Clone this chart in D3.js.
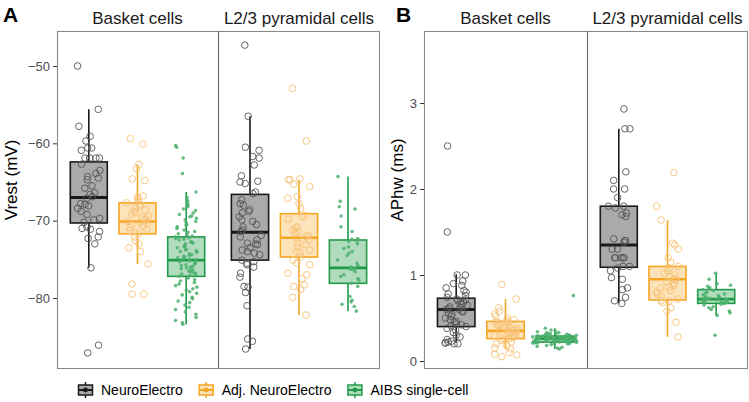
<!DOCTYPE html>
<html><head><meta charset="utf-8">
<script src="https://cdn.jsdelivr.net/npm/d3@7/dist/d3.min.js"></script>
<style>body{margin:0;background:#fff} text{font-family:"Liberation Sans",Arial,Helvetica,sans-serif}</style>
</head><body><svg id="c" width="749" height="402"></svg>
<script>
const sources = ["NeuroElectro", "Adj. NeuroElectro", "AIBS single-cell"];
const cellTypes = ["Basket cells", "L2/3 pyramidal cells"];
const vrestTicks = [-80, -70, -60, -50];
const aphwTicks = [0, 1, 2, 3];

// ---- Vrest (mV), basket cells ----
const vrestBasketNE = [-50.0,-55.6,-57.8,-59.1,-59.7,-60.6,-60.6,-60.9,-61.9,-61.9,-61.9,-61.9,-62.7,-63.5,-63.9,-64.3,-64.5,-64.7,-65.5,-65.8,-66.4,-66.6,-66.9,-67.1,-67.8,-67.9,-68.1,-68.4,-68.8,-69.2,-69.7,-69.9,-70.2,-70.8,-71.0,-71.1,-71.4,-72.1,-72.3,-73.0,-76.1,-86.1,-87.1];
const vrestBasketAdj = [-59.4,-60.1,-62.7,-63.3,-64.6,-64.8,-66.8,-66.9,-67.2,-67.5,-67.7,-67.9,-68.1,-68.3,-68.6,-68.8,-69.0,-69.2,-69.4,-69.6,-69.8,-70.0,-70.1,-70.2,-70.3,-70.5,-70.7,-70.9,-71.1,-71.3,-71.5,-71.7,-72.1,-72.6,-73.0,-73.5,-74.0,-75.6,-78.2,-79.5,-79.5];
const vrestBasketAIBS = [-60.3,-60.5,-61.9,-63.9,-66.3,-67.0,-67.4,-67.7,-68.0,-68.2,-68.5,-68.7,-69.0,-69.2,-69.4,-69.5,-69.7,-69.9,-70.1,-70.3,-70.5,-70.6,-70.8,-71.0,-71.2,-71.4,-71.5,-71.7,-71.9,-72.0,-72.1,-72.2,-72.3,-72.4,-72.5,-72.7,-72.8,-72.9,-73.0,-73.2,-73.3,-73.4,-73.5,-73.7,-73.8,-73.9,-74.0,-74.1,-74.3,-74.4,-74.5,-74.6,-74.7,-74.8,-74.9,-75.0,-75.1,-75.2,-75.3,-75.4,-75.5,-75.6,-75.7,-75.8,-75.9,-76.0,-76.1,-76.2,-76.3,-76.4,-76.5,-76.6,-76.7,-76.8,-76.9,-77.0,-77.1,-77.2,-77.4,-77.6,-77.8,-78.0,-78.2,-78.4,-78.6,-78.8,-79.0,-79.2,-79.4,-79.6,-79.9,-80.1,-80.4,-80.6,-80.9,-81.2,-81.5,-81.8,-82.1,-82.5,-82.9,-83.2,-83.4];
// ---- Vrest (mV), L2/3 pyramidal cells ----
const vrestPyrNE = [-47.3,-56.5,-60.5,-60.9,-61.7,-61.9,-62.8,-64.2,-64.9,-65.0,-65.2,-66.3,-66.5,-67.3,-67.8,-68.0,-68.6,-68.8,-69.0,-69.5,-69.9,-70.1,-70.5,-70.8,-71.2,-71.4,-71.9,-72.1,-72.5,-72.9,-73.0,-73.1,-73.5,-73.8,-74.0,-74.2,-74.4,-75.1,-75.3,-75.5,-75.7,-76.0,-76.8,-77.3,-78.5,-78.6,-79.3,-81.0,-85.3,-85.6,-86.6];
const vrestPyrAdj = [-52.9,-59.7,-64.6,-64.7,-64.7,-65.3,-65.6,-66.9,-67.1,-67.8,-68.4,-69.3,-69.5,-69.8,-70.8,-71.0,-71.2,-71.4,-71.6,-71.9,-72.1,-72.3,-72.5,-72.9,-73.1,-73.4,-73.8,-74.0,-74.2,-74.7,-75.1,-75.5,-75.7,-76.8,-77.0,-77.5,-78.3,-78.5,-78.9,-79.9,-82.2];
const vrestPyrAIBS = [-64.3,-67.5,-68.2,-68.5,-69.4,-70.8,-71.4,-72.3,-72.4,-72.5,-72.6,-72.7,-73.0,-73.4,-73.6,-74.0,-74.2,-74.5,-75.1,-75.5,-75.8,-76.0,-76.2,-76.3,-76.4,-76.6,-77.0,-77.2,-77.5,-77.7,-78.1,-78.5,-79.8,-80.3,-80.5,-80.8,-81.1,-81.7];
// box stats: [lower whisker, Q1, median, Q3, upper whisker] per source
const vrestBasketBox = [[-76.1,-70.3,-67.0,-62.4,-55.6],[-75.6,-71.7,-70.1,-67.7,-62.7],[-83.4,-77.2,-75.1,-72.1,-66.3]];
const vrestPyrBox = [[-86.6,-75.1,-71.5,-66.6,-56.5],[-82.2,-74.7,-72.2,-69.1,-64.7],[-81.7,-78.1,-76.1,-72.5,-64.3]];

// ---- APhw (ms), basket cells ----
const aphwBasketNE = [2.50,1.50,1.00,1.00,0.93,0.90,0.88,0.85,0.82,0.80,0.78,0.76,0.74,0.72,0.71,0.70,0.69,0.68,0.66,0.65,0.63,0.62,0.61,0.60,0.60,0.58,0.57,0.55,0.54,0.52,0.50,0.48,0.46,0.45,0.43,0.42,0.41,0.40,0.38,0.36,0.33,0.30,0.28,0.25,0.23,0.22,0.21,0.21,0.20,0.20];
const aphwBasketAdj = [0.89,0.72,0.62,0.58,0.55,0.52,0.50,0.48,0.47,0.46,0.45,0.44,0.43,0.42,0.41,0.40,0.39,0.38,0.37,0.36,0.35,0.35,0.34,0.33,0.32,0.31,0.30,0.29,0.28,0.27,0.26,0.26,0.25,0.24,0.22,0.20,0.18,0.15,0.14,0.10,0.08,0.07,0.05];
const aphwBasketAIBS = [0.76,0.38,0.36,0.35,0.34,0.33,0.33,0.32,0.32,0.31,0.31,0.31,0.30,0.30,0.30,0.30,0.29,0.29,0.29,0.29,0.29,0.28,0.28,0.28,0.28,0.28,0.28,0.27,0.27,0.27,0.27,0.27,0.27,0.27,0.27,0.26,0.26,0.26,0.26,0.26,0.26,0.26,0.26,0.26,0.25,0.25,0.25,0.25,0.25,0.25,0.25,0.25,0.24,0.24,0.24,0.24,0.24,0.24,0.24,0.23,0.23,0.23,0.23,0.23,0.23,0.22,0.22,0.22,0.22,0.22,0.21,0.21,0.21,0.21,0.20,0.20,0.20,0.19,0.18,0.17,0.16,0.15,0.14];
// ---- APhw (ms), L2/3 pyramidal cells ----
const aphwPyrNE = [2.93,2.70,2.70,2.20,2.10,2.00,2.00,1.90,1.80,1.80,1.78,1.72,1.70,1.68,1.42,1.40,1.40,1.38,1.30,1.30,1.20,1.20,1.20,1.20,1.20,1.10,1.10,1.08,1.05,0.97,0.95,0.85,0.83,0.74,0.70,0.67];
const aphwPyrAdj = [2.19,1.80,1.64,1.37,1.35,1.30,1.20,1.15,1.10,1.08,1.05,1.02,1.00,0.98,0.95,0.95,0.92,0.90,0.88,0.86,0.85,0.82,0.80,0.78,0.75,0.72,0.70,0.70,0.68,0.62,0.58,0.45,0.28];
const aphwPyrAIBS = [1.02,0.95,0.90,0.88,0.87,0.85,0.84,0.83,0.82,0.80,0.79,0.78,0.77,0.76,0.75,0.74,0.73,0.73,0.72,0.72,0.71,0.71,0.70,0.70,0.69,0.69,0.68,0.68,0.67,0.66,0.65,0.63,0.62,0.60,0.58,0.56,0.53,0.30];
const aphwBasketBox = [[0.21,0.40,0.60,0.73,1.01],[0.14,0.26,0.35,0.46,0.72],[0.14,0.22,0.26,0.29,0.38]];
const aphwPyrBox = [[0.67,1.09,1.35,1.80,2.70],[0.28,0.71,0.95,1.10,1.64],[0.53,0.67,0.72,0.83,1.02]];

// ---- styling ----
const strokeCol = ["#1a1a1a", "#F5A623", "#1F9A48"];
const boxFill = ["#aaaaaa", "#fde3ba", "#b1dcbe"];
const ptStroke = ["#555555", "#f7c276", null];
const ptFill = [null, null, "#4cb06d"];

const svg = d3.select("#c");
const FONT = '"Liberation Sans",Arial,Helvetica,sans-serif';

function hash(i, g) {
  const s = Math.sin(i * 12.9898 + g * 78.233) * 43758.5453;
  return s - Math.floor(s);
}

function drawPanel(cfg) {
  const g = svg.append("g");
  const y = d3.scaleLinear().domain(cfg.yDomain).range(cfg.yRange);
  const top = 31, bottom = 368;
  cfg.facets.forEach((f, fi) => {
    const x = d3.scalePoint().domain(sources).range([f[0], f[1]]).padding(0.653);
    const step = x.step();
    const bw = step * 0.76;
    g.append("text").attr("x", (f[0] + f[1]) / 2).attr("y", 24)
      .attr("text-anchor", "middle").attr("font-size", 17).attr("fill", "#1a1a1a")
      .text(cellTypes[fi]);
    sources.forEach((s, si) => {
      const st = cfg.box[fi][si];
      const cx = x(s);
      const bg = g.append("g");
      bg.append("line").attr("x1", cx).attr("x2", cx).attr("y1", y(st[4])).attr("y2", y(st[0]))
        .attr("stroke", strokeCol[si]).attr("stroke-width", 1.6);
      bg.append("rect").attr("x", cx - bw / 2).attr("width", bw)
        .attr("y", y(st[3])).attr("height", y(st[1]) - y(st[3]))
        .attr("fill", boxFill[si]).attr("stroke", strokeCol[si]).attr("stroke-width", 1.6);
      bg.append("line").attr("x1", cx - bw / 2).attr("x2", cx + bw / 2)
        .attr("y1", y(st[2])).attr("y2", y(st[2]))
        .attr("stroke", strokeCol[si]).attr("stroke-width", si === 0 ? 3 : 2.6);
      const vals = cfg.data[fi][si];
      const jw = (cfg.jitter && cfg.jitter[fi] ? cfg.jitter[fi][si] : 0.23) * step;
      const sel = g.append("g").selectAll("circle").data(vals).join("circle")
        .attr("cx", (d, i) => cx + (hash(i, si + fi * 3 + cfg.seed) - 0.5) * 2 * jw)
        .attr("cy", d => y(d));
      if (si === 2) {
        sel.attr("r", 1.8).attr("fill", ptFill[si]).attr("fill-opacity", 0.85);
      } else {
        sel.attr("r", 3.3).attr("fill", "none").attr("stroke", ptStroke[si]).attr("stroke-width", 0.9);
      }
    });
  });
  const L = cfg.facets[0][0], M = cfg.facets[0][1], R = cfg.facets[1][1];
  g.append("rect").attr("x", L + 0.5).attr("y", top + 0.5).attr("width", R - L - 1).attr("height", bottom - top)
    .attr("fill", "none").attr("stroke", "#8a8a8a").attr("stroke-width", 1.1);
  g.append("line").attr("x1", M + 0.5).attr("x2", M + 0.5).attr("y1", top).attr("y2", bottom + 0.5)
    .attr("stroke", "#666").attr("stroke-width", 1.1);
  const ax = g.append("g").attr("transform", `translate(${L},0)`)
    .call(d3.axisLeft(y).tickValues(cfg.ticks).tickSize(4).tickPadding(3)
      .tickFormat(d => d < 0 ? "\u2212" + Math.abs(d) : String(d)));
  ax.select(".domain").remove();
  ax.selectAll(".tick line").attr("stroke", "#333");
  ax.selectAll(".tick text").attr("font-size", 13).attr("fill", "#4d4d4d").attr("font-family", FONT);
  g.append("text").attr("transform", `translate(${cfg.titleX},${cfg.titleY}) rotate(-90)`)
    .attr("text-anchor", "middle").attr("font-size", 17).attr("fill", "#000").text(cfg.yTitle);
  g.append("text").attr("x", cfg.letterX).attr("y", 22).attr("font-size", 21).attr("font-weight", "bold")
    .attr("fill", "#000").text(cfg.letter);
}

drawPanel({
  letter: "A", letterX: 3, seed: 0,
  facets: [[57, 218], [218, 380]],
  yDomain: [-80, -50], yRange: [298, 66], ticks: vrestTicks,
  yTitle: "Vrest (mV)", titleX: 17, titleY: 180,
  data: [[vrestBasketNE, vrestBasketAdj, vrestBasketAIBS], [vrestPyrNE, vrestPyrAdj, vrestPyrAIBS]],
  box: [vrestBasketBox, vrestPyrBox]
});
drawPanel({
  letter: "B", letterX: 396, seed: 7,
  facets: [[424, 587], [587, 748]],
  yDomain: [0, 3], yRange: [361, 103], ticks: aphwTicks,
  yTitle: "APhw (ms)", titleX: 403, titleY: 180,
  jitter: [[0.23, 0.23, 0.45], [0.23, 0.23, 0.3]],
  data: [[aphwBasketNE, aphwBasketAdj, aphwBasketAIBS], [aphwPyrNE, aphwPyrAdj, aphwPyrAIBS]],
  box: [aphwBasketBox, aphwPyrBox]
});

const lg = svg.append("g");
let lx = 78;
const ly = 390;
sources.forEach((s, si) => {
  const k = lg.append("g").attr("transform", `translate(${lx},${ly})`);
  k.append("line").attr("x1", 7.5).attr("x2", 7.5).attr("y1", -8).attr("y2", 8)
    .attr("stroke", strokeCol[si]).attr("stroke-width", 1.5);
  k.append("rect").attr("x", 0.5).attr("y", -5).attr("width", 14).attr("height", 10)
    .attr("fill", boxFill[si]).attr("stroke", strokeCol[si]).attr("stroke-width", 1.5);
  k.append("line").attr("x1", 0.5).attr("x2", 14.5).attr("y1", 0).attr("y2", 0)
    .attr("stroke", strokeCol[si]).attr("stroke-width", 2);
  k.append("circle").attr("cx", 7.5).attr("cy", 0).attr("r", 2.4).attr("fill", strokeCol[si]);
  const t = lg.append("text").attr("x", lx + 23).attr("y", ly + 5).attr("font-size", 14)
    .attr("fill", "#000").text(s);
  lx += 23 + t.node().getComputedTextLength() + 16;
});
</script></body></html>
